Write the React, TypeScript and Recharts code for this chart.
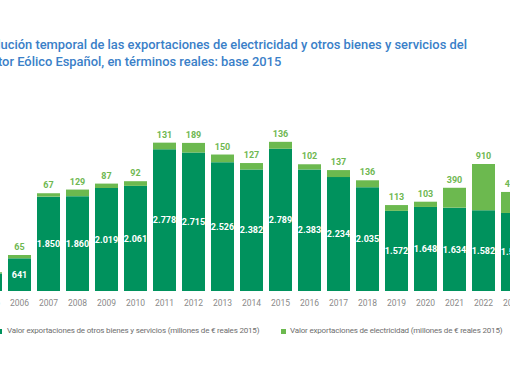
import React from "react";
import { BarChart, Bar, XAxis, YAxis, LabelList } from "recharts";

const years = ["2005","2006","2007","2008","2009","2010","2011","2012","2013","2014","2015","2016","2017","2018","2019","2020","2021","2022","2023"];
const otherExports = [345, 641, 1850, 1860, 2019, 2061, 2778, 2715, 2526, 2382, 2789, 2383, 2234, 2035, 1572, 1648, 1634, 1582, 1530];
const electricityExports = [22, 65, 67, 129, 87, 92, 131, 189, 150, 127, 136, 102, 137, 136, 113, 103, 390, 910, 412];

const titleLines = [
  "Evolución temporal de las exportaciones de electricidad y otros bienes y servicios del",
  "Sector Eólico Español, en términos reales: base 2015",
];
const legendLabels = [
  "Valor exportaciones de otros bienes y servicios (millones de € reales 2015)",
  "Valor exportaciones de electricidad (millones de € reales 2015)",
];

const DARK = "#00925d";
const LIGHT = "#6cb94f";
const LABEL_GREEN = "#6fb852";
const FONT = "Roboto, 'Noto Sans', sans-serif";

const data = years.map((y, i) => ({
  year: y,
  other: otherExports[i],
  elec: electricityExports[i],
}));

const fmt = (v: any) => String(v).replace(/\B(?=(\d{3})+(?!\d))/g, ".");

export default function App() {
  return (
    <div
      style={{
        position: "relative",
        width: 510,
        height: 382,
        overflow: "hidden",
        background: "#fff",
        fontFamily: FONT,
      }}
    >
      <style>{"body{margin:0}"}</style>
      <div
        style={{
          position: "absolute",
          left: -23.5,
          top: 36,
          fontSize: 12.9,
          lineHeight: "17px",
          fontWeight: 500,
          color: "#3a80c8",
          whiteSpace: "nowrap",
        }}
      >
        {titleLines.map((l, i) => (
          <div key={i}>{l}</div>
        ))}
      </div>
      <div style={{ position: "absolute", left: -24, top: 0 }}>
        <BarChart
          width={551}
          height={382}
          data={data}
          margin={{ top: 138, right: 0, bottom: 71, left: 0 }}
          barSize={23}
        >
          <XAxis
            dataKey="year"
            axisLine={false}
            tickLine={false}
            height={20}
            tickMargin={3}
            interval={0}
            tick={{ fontSize: 8.5, fill: "#8a8a8a", fontFamily: FONT }}
          />
          <YAxis hide domain={[0, 3000]} />
          <Bar dataKey="other" stackId="a" fill={DARK} isAnimationActive={false}>
            <LabelList
              dataKey="other"
              position="center"
              formatter={fmt}
              style={{ fill: "#ffffff", fontSize: 9, fontWeight: 700, fontFamily: FONT }}
            />
          </Bar>
          <Bar dataKey="elec" stackId="a" fill={LIGHT} isAnimationActive={false}>
            <LabelList
              dataKey="elec"
              position="top"
              offset={5}
              formatter={fmt}
              style={{ fill: LABEL_GREEN, fontSize: 9, fontWeight: 700, fontFamily: FONT }}
            />
          </Bar>
        </BarChart>
      </div>
      <div
        style={{
          position: "absolute",
          top: 326,
          left: 0,
          fontSize: 8,
          letterSpacing: -0.18,
          color: "#6e6e6e",
          whiteSpace: "nowrap",
          lineHeight: "10px",
        }}
      >
        <div style={{ position: "absolute", left: -3, top: 0, display: "flex", alignItems: "center" }}>
          <span style={{ display: "inline-block", width: 5, height: 5, background: DARK, marginRight: 5 }} />
          <span>{legendLabels[0]}</span>
        </div>
        <div style={{ position: "absolute", left: 281, top: 0, display: "flex", alignItems: "center" }}>
          <span style={{ display: "inline-block", width: 5, height: 5, background: LIGHT, marginRight: 4 }} />
          <span>{legendLabels[1]}</span>
        </div>
      </div>
    </div>
  );
}
